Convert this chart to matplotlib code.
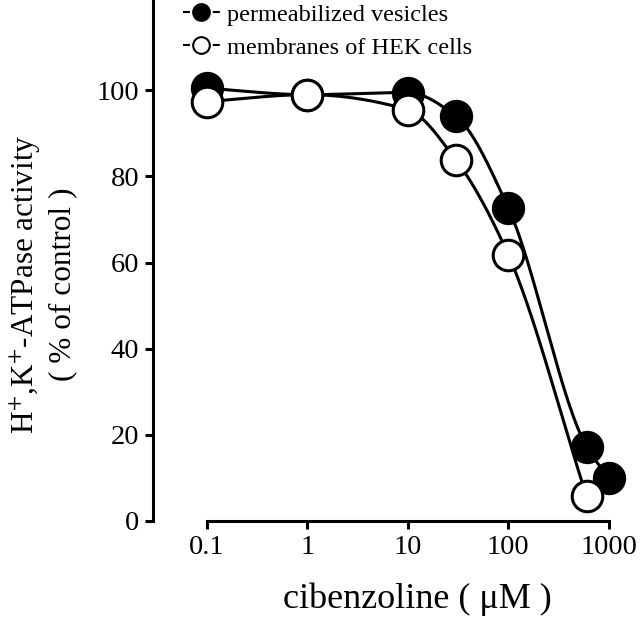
import numpy as np
import matplotlib
matplotlib.use('Agg')
import matplotlib.pyplot as plt
from matplotlib.lines import Line2D

plt.rcParams['font.family'] = ['Liberation Serif', 'DejaVu Serif']
plt.rcParams['mathtext.fontset'] = 'stix'
plt.rcParams['lines.scale_dashes'] = False

# cibenzoline concentration (uM) and activity (% of control)
conc_vesicles = [0.1, 1, 10, 30, 100, 600, 1000]
act_vesicles = [100.5, 99, 99.5, 94, 72.7, 17.2, 10]
conc_hek = [0.1, 1, 10, 30, 100, 600]
act_hek = [97.4, 99, 95.5, 83.9, 61.8, 5.7]

labels = ['permeabilized vesicles', 'membranes of HEK cells']
xticks = [0.1, 1, 10, 100, 1000]
xticklabels = ['0.1', '1', '10', '100', '1000']
yticks = [0, 20, 40, 60, 80, 100]


def smooth_curve(x, y, n=400):
    # monotone cubic (pchip) through the points, in log-x
    x = np.log10(np.asarray(x, float))
    y = np.asarray(y, float)
    h = np.diff(x)
    d = np.diff(y) / h
    m = np.zeros_like(y)
    for k in range(1, len(y) - 1):
        if d[k - 1] * d[k] > 0:
            w1 = 2 * h[k] + h[k - 1]
            w2 = h[k] + 2 * h[k - 1]
            m[k] = (w1 + w2) / (w1 / d[k - 1] + w2 / d[k])
    m[0] = d[0]
    m[-1] = d[-1]
    xs = np.linspace(x[0], x[-1], n)
    idx = np.clip(np.searchsorted(x, xs) - 1, 0, len(h) - 1)
    t = (xs - x[idx]) / h[idx]
    h00 = 2 * t**3 - 3 * t**2 + 1
    h10 = t**3 - 2 * t**2 + t
    h01 = -2 * t**3 + 3 * t**2
    h11 = t**3 - t**2
    ys = (h00 * y[idx] + h10 * h[idx] * m[idx] + h01 * y[idx + 1]
          + h11 * h[idx] * m[idx + 1])
    return 10 ** xs, ys


fig = plt.figure(figsize=(6.4, 6.24), dpi=100)
ax = fig.add_axes([0.239, 0.1655, 0.761, 0.8345])

for cx, cy in [(conc_vesicles, act_vesicles), (conc_hek, act_hek)]:
    xs, ys = smooth_curve(cx, cy)
    ax.plot(xs, ys, color='black', lw=2.2, zorder=2, clip_on=False)

ax.plot(conc_vesicles, act_vesicles, 'o', ms=22, mfc='black', mec='black',
        mew=2, zorder=3, clip_on=False)
ax.plot(conc_hek, act_hek, 'o', ms=22, mfc='white', mec='black',
        mew=2.2, zorder=4, clip_on=False)

ax.set_xscale('log')
ax.set_xlim(10 ** -1.534, 10 ** 3.31)
ax.set_ylim(0, 121)
ax.set_xticks(xticks)
ax.set_xticklabels(xticklabels)
ax.xaxis.set_minor_locator(plt.NullLocator())
ax.set_yticks(yticks)

for s in ['top', 'right']:
    ax.spines[s].set_visible(False)
ax.spines['bottom'].set_bounds(0.1, 1000)
ax.spines['left'].set_linewidth(2.2)
ax.spines['bottom'].set_linewidth(2.2)
ax.tick_params(length=6, width=2.2, labelsize=20.5, pad=4)

ax.set_xlabel('cibenzoline ( \u03bcM )', fontsize=26)
ax.xaxis.set_label_coords(0.542, -0.118)
ax.set_ylabel('H$^{+}$,K$^{+}$-ATPase activity\n( % of control )',
              fontsize=22.5, linespacing=1.25)
ax.yaxis.set_label_coords(-0.155, 0.455)

handles = [Line2D([], [], color='black', lw=1.5, dashes=(5, 16.5),
                  marker='o', ms=12, mfc='black', mec='black', mew=1.5),
           Line2D([], [], color='black', lw=1.5, dashes=(5, 16.5),
                  marker='o', ms=12, mfc='white', mec='black', mew=1.5)]
ax.legend(handles, labels, loc='upper left', bbox_to_anchor=(0.016, 1.035),
          frameon=False, fontsize=17.5, handlelength=1.52, handletextpad=0.3,
          labelspacing=0.45)

fig.savefig('out.png', dpi=100)
